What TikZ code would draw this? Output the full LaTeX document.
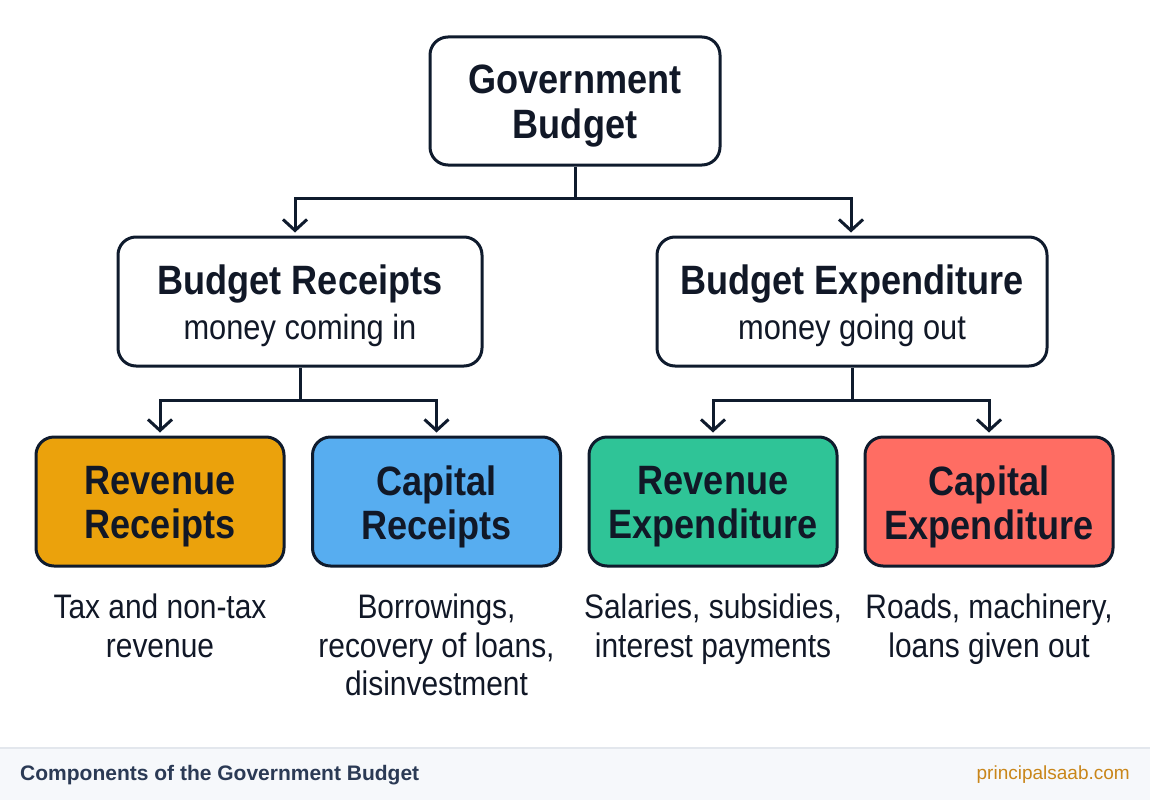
\documentclass[tikz,border=0pt]{standalone}
\usepackage{fontspec}
\setmainfont{Liberation Sans}[FakeStretch=0.88]
\newfontfamily\footfont{Liberation Sans}
\usetikzlibrary{arrows.meta}
\definecolor{navy}{HTML}{0F1B2D}
\definecolor{txt}{HTML}{111827}
\definecolor{orangebox}{HTML}{EBA20C}
\definecolor{bluebox}{HTML}{57ADF0}
\definecolor{greenbox}{HTML}{2FC497}
\definecolor{redbox}{HTML}{FF6D63}
\definecolor{footbg}{HTML}{F6F8FB}
\definecolor{footline}{HTML}{E3E7ED}
\definecolor{foottitle}{HTML}{2B3A55}
\definecolor{footsite}{HTML}{C9861A}
\tikzset{
  box/.style={draw=navy, line width=3pt, rounded corners=18pt, inner sep=0pt},
  boxtext/.style={align=center, text=txt, inner sep=0pt},
  headtext/.style={boxtext, font=\bfseries\fontsize{41}{45}\selectfont},
  leaf/.style={box, minimum width=248pt, minimum height=129pt},
  leaftext/.style={boxtext, font=\bfseries\fontsize{41}{44}\selectfont},
  desc/.style={align=center, text=txt, font=\fontsize{34}{38.5}\selectfont, inner sep=0pt},
  conn/.style={draw=navy, line width=3pt},
  arr/.style={conn, -{Straight Barb[length=11pt,width=24pt,line width=3pt]}, shorten >=3pt},
}
\begin{document}
\begin{tikzpicture}[x=1pt,y=-1pt]
\useasboundingbox (0,0) rectangle (1150,800);
% footer
\fill[footbg] (0,748) rectangle (1150,800);
\draw[footline, line width=1.5pt] (0,748) -- (1150,748);
\node[anchor=west, text=foottitle, font=\footfont\bfseries\fontsize{21}{24}\selectfont, inner sep=0pt] (ftitle) at (20,775) {Components of the Government Budget};
\node[anchor=east, text=footsite, font=\footfont\fontsize{19}{22}\selectfont, inner sep=0pt] (fsite) at (1130,775) {principalsaab.com};

% top
\node[box, fill=white, minimum width=290pt, minimum height=128pt] (gov) at (575,101) {};
\node[headtext] (govt) at ([yshift=-5pt]gov.center) {Government\\Budget};

% categories
\node[box, fill=white, minimum width=364pt, minimum height=129pt] (rec) at (300,301.5) {};
\node[boxtext] (rect) at ([yshift=-4pt]rec.center) {{\bfseries\fontsize{41}{45}\selectfont Budget Receipts}\\[10pt]{\fontsize{35}{40}\selectfont money coming in}};
\node[box, fill=white, minimum width=390pt, minimum height=129pt] (exp) at (852,301.5) {};
\node[boxtext] (expt) at ([yshift=-4pt]exp.center) {{\bfseries\fontsize{41}{45}\selectfont Budget Expenditure}\\[10pt]{\fontsize{35}{40}\selectfont money going out}};

% leaves
\node[leaf, fill=orangebox] (rr) at (160,501.5) {};
\node[leaf, fill=bluebox] (cr) at (436.5,501.5) {};
\node[leaf, fill=greenbox] (re) at (713,501.5) {};
\node[leaf, fill=redbox] (ce) at (989,501.5) {};
\node[leaftext] (rrt) at ([yshift=-5pt]rr.center) {Revenue\\Receipts};
\node[leaftext] (crt) at ([yshift=-5pt]cr.center) {Capital\\Receipts};
\node[leaftext] (ret) at ([yshift=-5pt]re.center) {Revenue\\Expenditure};
\node[leaftext] (cet) at ([yshift=-5pt]ce.center) {Capital\\Expenditure};

% descriptions
\node[desc, anchor=north] (drr) at (160,594) {Tax and non-tax\\revenue};
\node[desc, anchor=north] (dcr) at (436.5,594) {Borrowings,\\recovery of loans,\\disinvestment};
\node[desc, anchor=north] (dre) at (713,594) {Salaries, subsidies,\\interest payments};
\node[desc, anchor=north] (dce) at (989,594) {Roads, machinery,\\loans given out};

% connectors
\coordinate (j0) at (575,198);
\coordinate (j1) at (300,400);
\coordinate (j2) at (852,400);
\draw[conn] (gov.south) -- (j0);
\draw[arr] (j0) -| ([xshift=-5pt]rec.north);
\draw[arr] (j0) -| ([xshift=-1pt]exp.north);
\draw[conn] (rec.south) -- (j1);
\draw[arr] (j1) -| (rr.north);
\draw[arr] (j1) -| (cr.north);
\draw[conn] (exp.south) -- (j2);
\draw[arr] (j2) -| (re.north);
\draw[arr] (j2) -| (ce.north);
\end{tikzpicture}
\end{document}
